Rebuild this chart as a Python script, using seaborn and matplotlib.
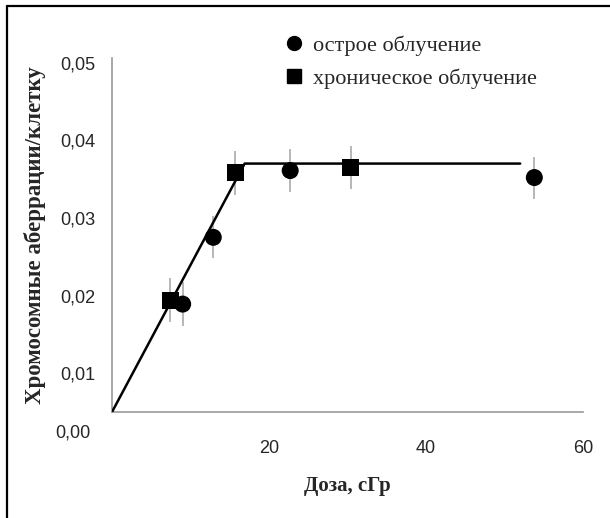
import numpy as np
import pandas as pd
import seaborn as sns
import matplotlib.pyplot as plt
from matplotlib.lines import Line2D

# Данные
acute_dose = [9.0, 12.9, 22.7, 53.8]
acute_val = [0.0189, 0.0275, 0.0361, 0.0352]
acute_err = [0.0028, 0.0027, 0.0028, 0.0027]

chronic_dose = [7.4, 15.7, 30.4]
chronic_val = [0.0194, 0.0358, 0.0365]
chronic_err = [0.0028, 0.0028, 0.0028]

fit_dose = [0.0, 16.9, 52.0]
fit_val = [0.0050, 0.0370, 0.0370]

x_ticks = [20, 40, 60]
y_ticks = [0.01, 0.02, 0.03, 0.04, 0.05]
y_tick_labels = ['0,01', '0,02', '0,03', '0,04', '0,05']

df = pd.DataFrame({
    'dose': acute_dose + chronic_dose,
    'val': acute_val + chronic_val,
    'err': acute_err + chronic_err,
    'group': ['острое облучение'] * len(acute_dose) + ['хроническое облучение'] * len(chronic_dose),
})

sns.set_style('white')
plt.rcParams['font.family'] = ['Liberation Serif', 'DejaVu Serif']

fig = plt.figure(figsize=(6.1, 5.18), dpi=100)
ax = fig.add_axes([112 / 610, 1 - 412 / 518, (583 - 112) / 610, (412 - 58) / 518])

# линия модели
sns.lineplot(x=fit_dose, y=fit_val, ax=ax, color='black', lw=1.8, zorder=3)

# планки погрешностей
ax.errorbar(df['dose'], df['val'], yerr=df['err'], fmt='none',
            ecolor='#aaaaaa', elinewidth=1.2, capsize=0, zorder=2)

sns.scatterplot(data=df, x='dose', y='val', style='group',
                markers={'острое облучение': 'o', 'хроническое облучение': 's'},
                color='black', s=150, edgecolor='black', linewidth=0,
                ax=ax, zorder=4, legend=False)

ax.set_xlim(0, 60)
ax.set_ylim(0.0050, 0.0506)
ax.set_xticks(x_ticks)
ax.set_xticklabels([str(t) for t in x_ticks], family='Liberation Sans', fontsize=13)
ax.set_yticks(y_ticks)
ax.set_yticklabels(y_tick_labels, family='Liberation Sans', fontsize=13)
ax.tick_params(axis='x', direction='out', length=6, width=1, color='#999999', pad=14)
ax.tick_params(axis='y', direction='in', length=7, width=1, color='#999999', pad=12)
ax.text(-0.045, -0.06, '0,00', transform=ax.transAxes, ha='right', va='center',
        family='Liberation Sans', fontsize=13)

for side in ['top', 'right']:
    ax.spines[side].set_visible(False)
for side in ['left', 'bottom']:
    ax.spines[side].set_color('#999999')
    ax.spines[side].set_linewidth(1.2)

ax.set_xlabel('Доза, сГр', fontsize=15, fontweight='bold', labelpad=14)
ax.set_ylabel('Хромосомные аберрации/клетку', fontsize=16.5, fontweight='bold', labelpad=10)

handles = [
    Line2D([], [], marker='o', color='black', linestyle='none', markersize=10),
    Line2D([], [], marker='s', color='black', linestyle='none', markersize=10),
]
leg = ax.legend(handles, ['острое облучение', 'хроническое облучение'],
                loc='upper left', bbox_to_anchor=(0.32, 1.12), frameon=False,
                fontsize=16, handletextpad=0.35, labelspacing=0.55, handlelength=1.0)

# рамка слева и сверху
fig.add_artist(Line2D([7 / 610, 7 / 610], [0, 1 - 6 / 518], transform=fig.transFigure, color='black', lw=1.6))
fig.add_artist(Line2D([7 / 610, 1], [1 - 6 / 518, 1 - 6 / 518], transform=fig.transFigure, color='black', lw=1.6))

fig.savefig('out.png', dpi=100)
